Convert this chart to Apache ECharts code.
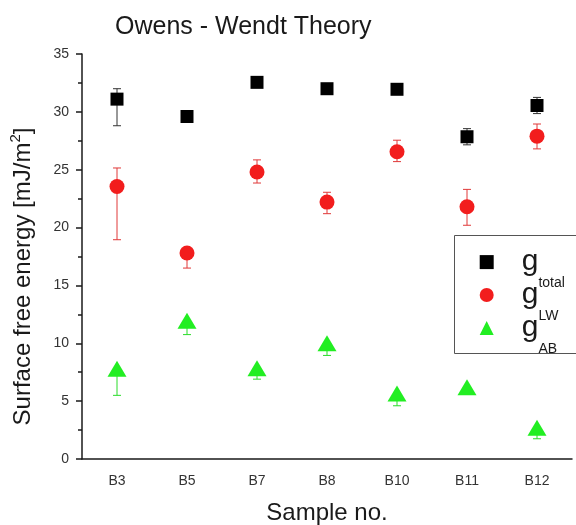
<!DOCTYPE html>
<html>
<head>
<meta charset="utf-8">
<script src="https://cdn.jsdelivr.net/npm/echarts@6/dist/echarts.min.js"></script>
<style>
  html, body { margin: 0; padding: 0; background: #fff; }
  #chart { width: 576px; height: 525px; }
</style>
</head>
<body>
<div id="chart"></div>
<script>
// data
var categories = ['B3', 'B5', 'B7', 'B8', 'B10', 'B11', 'B12'];

var totalValues = [31.1, 29.6, 32.55, 32.0, 31.95, 27.85, 30.55];
var totalErrUp = [0.9, 0, 0, 0, 0, 0.7, 0.7];
var totalErrDown = [2.3, 0, 0, 0, 0, 0.7, 0.7];

var lwValues = [23.55, 17.8, 24.8, 22.2, 26.55, 21.8, 27.9];
var lwErrUp = [1.6, 0, 1.05, 0.85, 1.0, 1.5, 1.05];
var lwErrDown = [4.6, 1.3, 0.95, 1.0, 0.85, 1.6, 1.1];

var abValues = [7.8, 11.95, 7.85, 10.0, 5.65, 6.2, 2.7];
var abErrUp = [0, 0, 0, 0, 0, 0, 0];
var abErrDown = [2.3, 1.2, 0.95, 1.05, 1.05, 0, 0.95];

var yMin = 0, yMax = 35, yStep = 5;

var FONT = "'Liberation Sans', Arial, sans-serif";
var AXIS_COLOR = '#1a1a1a';

function errData(vals, up, down) {
  return vals.map(function (v, i) {
    return [i, v - down[i], v + up[i]];
  });
}

function errRenderer(color) {
  return function (params, api) {
    var lo = api.coord([api.value(0), api.value(1)]);
    var hi = api.coord([api.value(0), api.value(2)]);
    var w = 4;
    var st = { stroke: color, lineWidth: 1 };
    if (hi[1] === lo[1]) return null;
    return {
      type: 'group',
      children: [
        { type: 'line', shape: { x1: lo[0], y1: lo[1], x2: hi[0], y2: hi[1] }, style: st },
        { type: 'line', shape: { x1: hi[0] - w, y1: hi[1], x2: hi[0] + w, y2: hi[1] }, style: st },
        { type: 'line', shape: { x1: lo[0] - w, y1: lo[1], x2: lo[0] + w, y2: lo[1] }, style: st }
      ]
    };
  };
}

function errSeries(name, vals, up, down, color) {
  return {
    type: 'custom',
    name: name,
    xAxisIndex: 0,
    silent: true,
    z: 1,
    encode: { x: 0, y: [1, 2] },
    data: errData(vals, up, down),
    renderItem: errRenderer(color)
  };
}

var chart = echarts.init(document.getElementById('chart'), null, { renderer: 'canvas' });

var option = {
  backgroundColor: '#fff',
  animation: false,
  title: {
    text: 'Owens - Wendt Theory',
    left: 110,
    top: 10,
    textStyle: { fontFamily: FONT, fontSize: 25, fontWeight: 'normal', color: '#1a1a1a' }
  },
  grid: { left: 82, right: 4, top: 54, bottom: 66, containLabel: false, outerBoundsMode: 'none' },
  legend: {
    data: ['total', 'LW', 'AB'],
    orient: 'vertical',
    left: 479.7,
    top: 247.1,
    itemWidth: 14,
    itemHeight: 14,
    itemGap: -10.1,
    padding: 0,
    selectedMode: false,
    formatter: function (name) { return '{g|g}{s|' + name + '}'; },
    textStyle: {
      fontFamily: FONT,
      color: '#1a1a1a',
      rich: {
        g: { fontFamily: FONT, fontSize: 30, lineHeight: 56, padding: [0, 0, 0, 23], color: '#1a1a1a' },
        s: { fontFamily: FONT, fontSize: 14, lineHeight: 14, verticalAlign: 'bottom', color: '#1a1a1a' }
      }
    }
  },
  graphic: [{
    type: 'rect',
    shape: { x: 454.5, y: 235.5, width: 200, height: 118 },
    style: { fill: 'transparent', stroke: '#555', lineWidth: 1 },
    silent: true
  }],
  xAxis: [{
    type: 'category',
    data: categories,
    boundaryGap: true,
    axisLine: { lineStyle: { color: AXIS_COLOR, width: 1.5 } },
    axisTick: { alignWithLabel: true, length: 6, lineStyle: { color: AXIS_COLOR, width: 1.5 } },
    axisLabel: { fontFamily: FONT, fontSize: 14, color: '#333', margin: 15 },
    splitLine: { show: false },
    name: 'Sample no.',
    nameLocation: 'middle',
    nameGap: 42.7,
    nameTextStyle: { fontFamily: FONT, fontSize: 24, color: '#1a1a1a' }
  }, {
    type: 'category',
    data: categories,
    position: 'bottom',
    boundaryGap: true,
    axisLine: { show: false },
    axisTick: { length: 4, lineStyle: { color: AXIS_COLOR, width: 1.5 } },
    axisLabel: { show: false },
    splitLine: { show: false }
  }],
  yAxis: {
    type: 'value',
    min: yMin,
    max: yMax,
    interval: yStep,
    axisLine: { show: true, lineStyle: { color: AXIS_COLOR, width: 1.5 } },
    axisTick: { show: true, length: 6, lineStyle: { color: AXIS_COLOR, width: 1.5 } },
    minorTick: { show: true, splitNumber: 2, length: 4, lineStyle: { color: AXIS_COLOR, width: 1.5 } },
    splitLine: { show: false },
    axisLabel: { fontFamily: FONT, fontSize: 14, color: '#333', margin: 13 },
    name: '{a|Surface free energy [mJ/m}{p|2}{a|]}',
    nameLocation: 'middle',
    nameRotate: 90,
    nameGap: 44,
    nameTextStyle: {
      padding: [0, 40, 0, 0],
      rich: {
        a: { fontFamily: FONT, fontSize: 24, lineHeight: 30, color: '#1a1a1a' },
        p: { fontFamily: FONT, fontSize: 15, lineHeight: 15, verticalAlign: 'top', color: '#1a1a1a' }
      }
    }
  },
  series: [
    errSeries('errTotal', totalValues, totalErrUp, totalErrDown, '#333'),
    errSeries('errLW', lwValues, lwErrUp, lwErrDown, '#e03838'),
    errSeries('errAB', abValues, abErrUp, abErrDown, '#2bdc2b'),
    {
      type: 'scatter', name: 'total', z: 3,
      symbol: 'rect', symbolSize: 13,
      itemStyle: { color: '#000', opacity: 1 },
      data: totalValues
    },
    {
      type: 'scatter', name: 'LW', z: 3,
      symbol: 'circle', symbolSize: 15,
      itemStyle: { color: '#f21d1d', opacity: 1 },
      data: lwValues
    },
    {
      type: 'scatter', name: 'AB', z: 3,
      symbol: 'triangle', symbolSize: [19, 16],
      itemStyle: { color: '#22ee22', opacity: 1 },
      data: abValues
    }
  ]
};

chart.setOption(option);
</script>
</body>
</html>
